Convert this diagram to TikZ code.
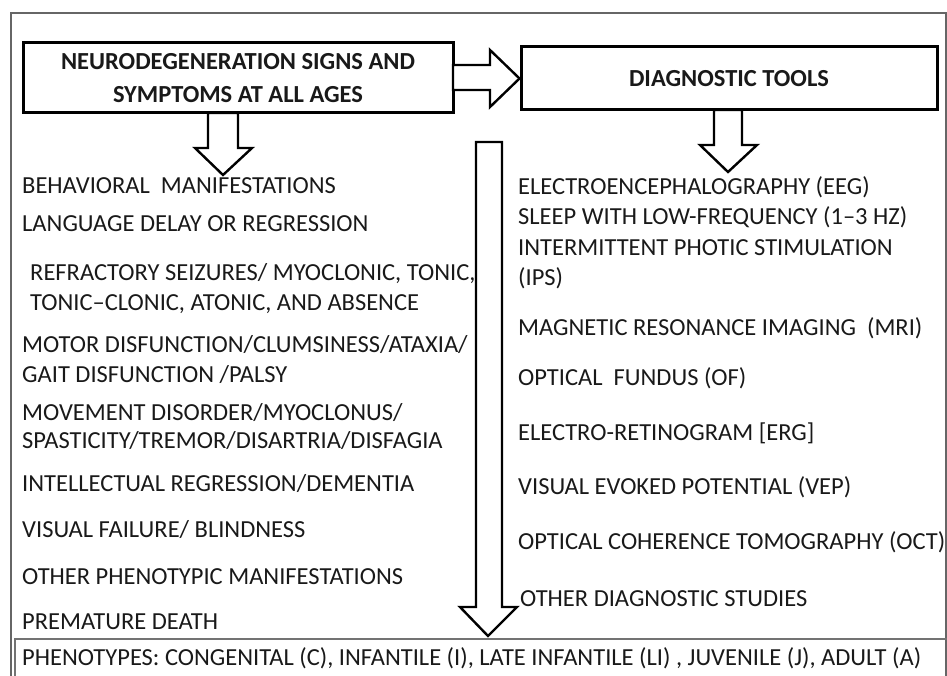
\documentclass[tikz,border=0pt]{standalone}
\usepackage{fontspec}
\setmainfont{Carlito}
\usetikzlibrary{calc}
\tikzset{
 nd box/.style={draw=black,line width=3pt,inner sep=0pt,align=center,
                font=\bfseries\fontsize{24.5}{33}\selectfont,text=black!90},
 nd arrow/.style={draw=black,fill=white,line width=2.4pt,line join=miter},
 nd item/.style={anchor=base west,inner sep=0pt,
                 font=\fontsize{24.5}{30}\selectfont,text=black!90},
 nd frame/.style={draw=black!60,line width=1.8pt},
 nd thin frame/.style={draw=black!55,line width=1.2pt}
}
\begin{document}
\begin{tikzpicture}[x=1pt,y=-1pt]
 \useasboundingbox (0,0) rectangle (947,676);
 \draw[nd frame] (11,13) rectangle (946,700);
 \draw[nd thin frame] (15,639) rectangle (950,700);
 % header boxes
 \node[nd box,minimum width=430pt,minimum height=70pt] (sym) at (238,78)
   {NEURODEGENERATION SIGNS AND\\SYMPTOMS AT ALL AGES};
 \node[nd box,minimum width=416pt,minimum height=63pt] (diag) at (729,78.5)
   {DIAGNOSTIC TOOLS};
 % block arrows
 \draw[nd arrow] (453,65)--(490,65)--(490,50)--(diag.west)--(490,107)
   --(490,90)--(453,90)--cycle;
 \draw[nd arrow] (208,113)--(208,148)--(195,148)--(223,175)--(252,148)
   --(238,148)--(238,113)--cycle;
 \draw[nd arrow] (714,110)--(714,145)--(700,145)--(728,172)--(757,145)
   --(742,145)--(742,110)--cycle;
 \draw[nd arrow] (476,142)--(476,607)--(460,607)--(488,636)--(517,607)
   --(502,607)--(502,142)--cycle;
 % signs and symptoms
 \foreach \x/\y/\t [count=\i] in {
   22/194/{BEHAVIORAL\ \ MANIFESTATIONS},
   22/232/{LANGUAGE DELAY OR REGRESSION},
   30/280/{REFRACTORY SEIZURES/ MYOCLONIC, TONIC,},
   30/310/{TONIC–CLONIC, ATONIC, AND ABSENCE},
   22/352/{MOTOR DISFUNCTION/CLUMSINESS/ATAXIA/},
   22/382/{GAIT DISFUNCTION /PALSY},
   22/420/{MOVEMENT DISORDER/MYOCLONUS/},
   22/448/{SPASTICITY/TREMOR/DISARTRIA/DISFAGIA},
   22/491/{INTELLECTUAL REGRESSION/DEMENTIA},
   22/537/{VISUAL FAILURE/ BLINDNESS},
   22/584/{OTHER PHENOTYPIC MANIFESTATIONS},
   22/629/{PREMATURE DEATH}}{
   \node[nd item] (sign\i) at (\x,\y) {\t};
 }
 % diagnostic tools
 \foreach \x/\y/\t [count=\i] in {
   518/195/{ELECTROENCEPHALOGRAPHY (EEG)},
   518/225/{SLEEP WITH LOW-FREQUENCY (1–3 HZ)},
   518/255/{INTERMITTENT PHOTIC STIMULATION},
   518/285/{(IPS)},
   518/335/{MAGNETIC RESONANCE IMAGING\ \ (MRI)},
   518/385/{OPTICAL\ \ FUNDUS (OF)},
   518/440/{ELECTRO-RETINOGRAM [ERG]},
   518/494/{VISUAL EVOKED POTENTIAL (VEP)},
   518/549/{OPTICAL COHERENCE TOMOGRAPHY (OCT)},
   520/606/{OTHER DIAGNOSTIC STUDIES}}{
   \node[nd item] (tool\i) at (\x,\y) {\t};
 }
 \node[nd item] (pheno) at (22,665)
   {PHENOTYPES: CONGENITAL (C), INFANTILE (I), LATE INFANTILE (LI) , JUVENILE (J), ADULT (A)};
\end{tikzpicture}
\end{document}
